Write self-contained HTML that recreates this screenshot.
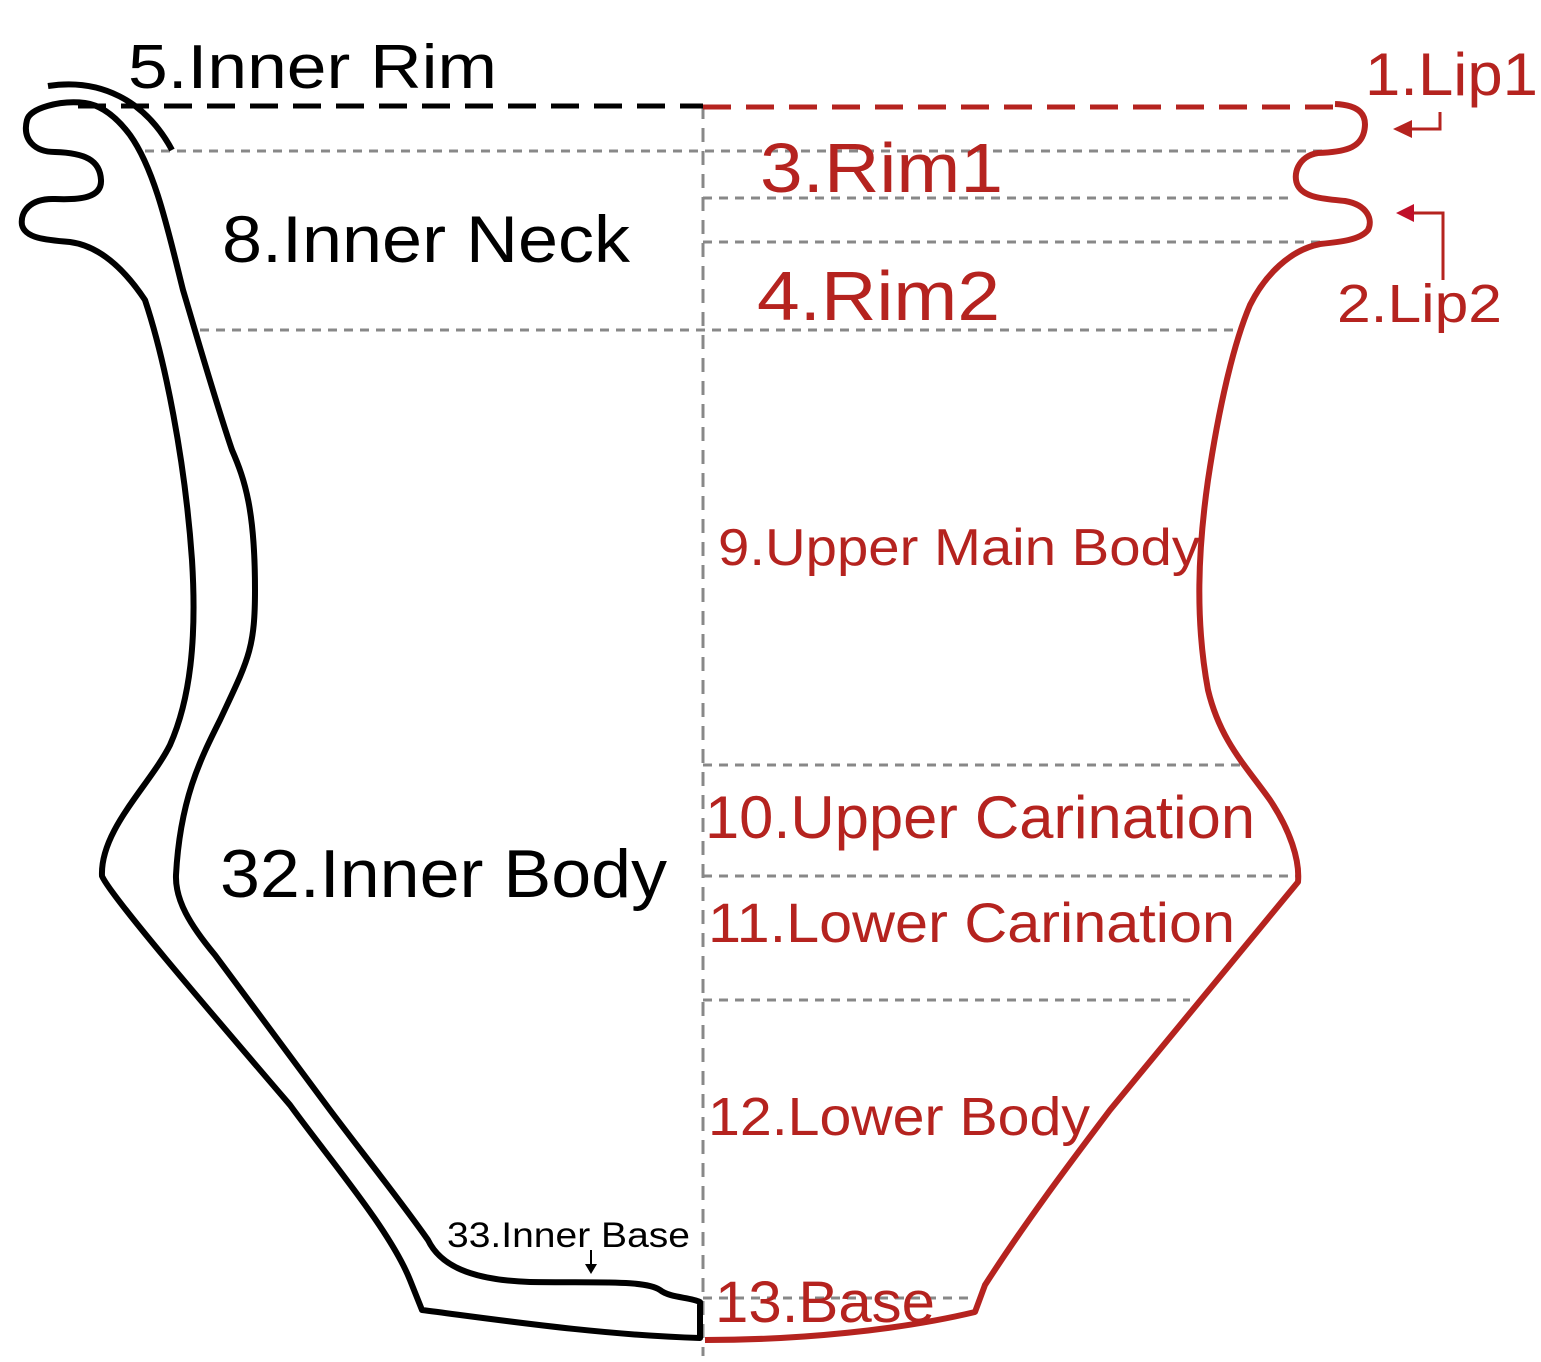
<!DOCTYPE html>
<html><head><meta charset="utf-8"><style>
html,body{margin:0;padding:0;background:#fff;}
svg{display:block;}
text{font-family:"Liberation Sans",sans-serif;}
</style></head><body>
<svg width="1541" height="1362" viewBox="0 0 1541 1362" xmlns="http://www.w3.org/2000/svg">
<g stroke="#888" stroke-width="3" stroke-dasharray="9,7" fill="none">
<line x1="145" y1="151" x2="1330" y2="151"/>
<line x1="703" y1="198" x2="1295" y2="198"/>
<line x1="703" y1="242" x2="1330" y2="242"/>
<line x1="200" y1="330" x2="1240" y2="330"/>
<line x1="703" y1="765" x2="1240" y2="765"/>
<line x1="703" y1="876" x2="1300" y2="876"/>
<line x1="703" y1="1000" x2="1190" y2="1000"/>
<line x1="703" y1="1298" x2="975" y2="1298"/>
</g>
<line x1="703" y1="105" x2="703" y2="1356" stroke="#888" stroke-width="3" stroke-dasharray="14,9"/>
<line x1="78" y1="106" x2="703" y2="106" stroke="#000" stroke-width="5" stroke-dasharray="28,15"/>
<line x1="703" y1="107" x2="1335" y2="107" stroke="#b5231f" stroke-width="5" stroke-dasharray="28,15"/>
<path d="M48,86 C100,78 145,100 172,150" stroke="#000" stroke-width="6" fill="none"/>
<path d="M85,103 C60,100 30,108 27,120 C22,140 35,152 55,152 C85,153 100,160 101,180 C102,198 80,200 55,199 C30,198 20,212 22,225 C25,238 45,240 70,242 C100,246 125,270 145,300 C165,360 185,460 192,560 C197,640 190,700 170,745 C150,785 100,830 102,876 C110,895 200,1000 290,1105 C330,1160 390,1230 410,1280 L422,1310 C500,1320 600,1335 700,1338 L700,1302 C690,1297 670,1298 660,1290 C645,1280 600,1283 530,1282 C470,1280 440,1265 428,1240 C400,1200 360,1150 330,1110 L215,955 C190,925 175,900 176,875 C180,800 200,760 220,720 C248,660 255,650 255,590 C255,510 245,480 232,450 C215,400 195,330 183,290 C168,230 155,170 130,135 C115,115 100,105 85,103 Z" stroke="#000" stroke-width="6" fill="none" stroke-linejoin="round"/>
<path d="M1335,104 C1360,105 1368,115 1364,132 C1360,148 1345,152 1318,153 C1298,156 1292,175 1298,186 C1305,198 1325,199 1345,201 C1368,205 1373,220 1368,230 C1360,240 1340,242 1320,244 C1290,250 1265,275 1250,305 C1235,340 1220,400 1208,480 C1198,550 1195,620 1208,690 C1220,740 1245,765 1270,800 C1290,830 1300,860 1298,882 L1110,1110 C1080,1150 1030,1215 985,1285 L975,1312 C900,1330 800,1340 705,1340" stroke="#b5231f" stroke-width="6" fill="none" stroke-linejoin="round"/>
<g stroke="#b5231f" stroke-width="3" fill="none">
<polyline points="1440,112 1440,129 1410,129"/>
<polyline points="1443,280 1443,213 1410,213"/>
</g>
<polygon points="1393,129 1412,120 1412,138" fill="#b5231f"/>
<polygon points="1396,213 1414,204 1414,222" fill="#c0102a"/>
<line x1="591" y1="1250" x2="591" y2="1265" stroke="#000" stroke-width="2"/>
<polygon points="585,1264 597,1264 591,1274" fill="#000"/>
<g fill="#000">
<text x="128" y="88" font-size="62" textLength="369" lengthAdjust="spacingAndGlyphs">5.Inner Rim</text>
<text x="222" y="262" font-size="66" textLength="408" lengthAdjust="spacingAndGlyphs">8.Inner Neck</text>
<text x="220" y="897" font-size="68" textLength="447" lengthAdjust="spacingAndGlyphs">32.Inner Body</text>
<text x="447" y="1247" font-size="35" textLength="243" lengthAdjust="spacingAndGlyphs">33.Inner Base</text>
</g>
<g fill="#b5231f">
<text x="760" y="192" font-size="70" textLength="243" lengthAdjust="spacingAndGlyphs">3.Rim1</text>
<text x="757" y="320" font-size="70" textLength="243" lengthAdjust="spacingAndGlyphs">4.Rim2</text>
<text x="1365" y="95" font-size="60" textLength="173" lengthAdjust="spacingAndGlyphs">1.Lip1</text>
<text x="1337" y="322" font-size="54" textLength="165" lengthAdjust="spacingAndGlyphs">2.Lip2</text>
<text x="718" y="565" font-size="52" textLength="482" lengthAdjust="spacingAndGlyphs">9.Upper Main Body</text>
<text x="705" y="838" font-size="60" textLength="550" lengthAdjust="spacingAndGlyphs">10.Upper Carination</text>
<text x="708" y="942" font-size="56" textLength="527" lengthAdjust="spacingAndGlyphs">11.Lower Carination</text>
<text x="708" y="1135" font-size="54" textLength="382" lengthAdjust="spacingAndGlyphs">12.Lower Body</text>
<text x="715" y="1322" font-size="58" textLength="220" lengthAdjust="spacingAndGlyphs">13.Base</text>
</g>
</svg>
</body></html>
